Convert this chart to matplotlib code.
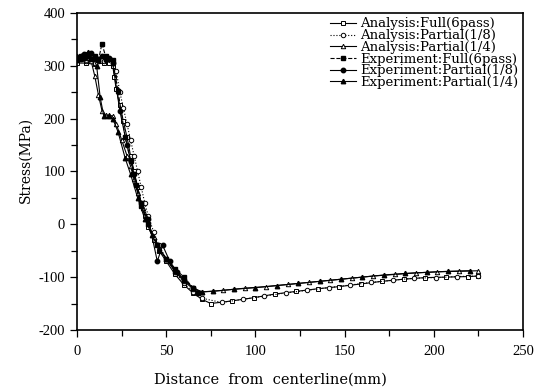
import matplotlib
matplotlib.use("Agg")
import matplotlib.pyplot as plt
from matplotlib.ticker import MultipleLocator

plt.rcParams['font.family'] = ['Liberation Serif', 'DejaVu Serif']
plt.rcParams['axes.unicode_minus'] = False

# Analysis : Full (6pass) -- open squares, solid
an_full_x = [0, 5, 10, 15, 18, 20, 21, 22, 24, 26, 28, 30, 32, 34, 36, 38, 40, 43, 46, 50, 55, 60, 65, 70,
             75, 87, 99, 111, 123, 135, 147, 159, 171, 183, 195, 207, 219, 225]
an_full_y = [305, 305, 303, 305, 305, 300, 278, 255, 225, 195, 165, 130, 100, 70, 40, 15, -5, -30, -50, -70,
             -95, -115, -130, -142, -150, -145, -139, -132, -127, -122, -118, -113, -108, -104, -101, -100,
             -99, -98]

# Analysis : Partial (1/8) -- open circles, dotted
an_p8_x = [0, 5, 10, 15, 20, 22, 24, 26, 28, 30, 32, 34, 36, 38, 40, 43, 46, 50, 55, 60, 65, 70,
           81, 93, 105, 117, 129, 141, 153, 165, 177, 189, 201, 213, 225]
an_p8_y = [310, 308, 306, 308, 305, 290, 250, 220, 190, 160, 130, 100, 70, 40, 15, -15, -40, -65, -90,
           -112, -128, -140, -148, -142, -136, -130, -125, -120, -115, -110, -106, -102, -101, -99, -98]

# Analysis : Partial (1/4) -- open triangles, solid
an_p4_x = [0, 5, 8, 10, 12, 14, 16, 18, 20, 22, 25, 28, 30, 32, 34, 37, 40, 43, 46, 50, 55, 60, 65,
           70, 82, 94, 106, 118, 130, 142, 154, 166, 178, 190, 202, 214, 225]
an_p4_y = [310, 310, 308, 280, 245, 215, 207, 206, 205, 190, 160, 130, 110, 85, 60, 30, 0, -25, -45,
           -65, -90, -108, -122, -128, -125, -121, -118, -114, -110, -106, -102, -98, -95, -92, -90, -89,
           -88]

# Experiment : Full (6pass) -- filled squares, dashed
ex_full_x = [0, 2, 4, 6, 8, 10, 12, 14, 16, 18, 20, 23, 27, 30, 33, 36, 40, 45, 50, 55, 60, 65, 68]
ex_full_y = [310, 318, 315, 320, 312, 318, 310, 342, 318, 312, 310, 252, 165, 120, 75, 35, 0, -40, -65,
             -85, -100, -120, -130]

# Experiment : Partial (1/8) -- filled circles, solid
ex_p8_x = [0, 2, 4, 6, 8, 10, 12, 14, 16, 18, 20, 24, 28, 32, 36, 40, 45, 48, 52, 56, 60, 65]
ex_p8_y = [315, 312, 322, 318, 325, 315, 312, 318, 310, 315, 305, 215, 150, 95, 40, 10, -70, -40, -70,
           -90, -105, -120]

# Experiment : Partial (1/4) -- filled triangles, solid
ex_p4_x = [0, 3, 6, 9, 11, 13, 15, 18, 20, 23, 27, 30, 34, 38, 42, 46, 50, 55, 60, 65, 70,
           76, 88, 100, 112, 124, 136, 148, 160, 172, 184, 196, 208, 220]
ex_p4_y = [318, 320, 326, 315, 300, 240, 205, 205, 200, 175, 125, 95, 50, 10, -20, -48, -65, -88, -105,
           -120, -128, -127, -123, -120, -116, -112, -108, -104, -100, -96, -93, -91, -89, -88]

labels = ['Analysis:Full(6pass)', 'Analysis:Partial(1/8)', 'Analysis:Partial(1/4)',
          'Experiment:Full(6pass)', 'Experiment:Partial(1/8)', 'Experiment:Partial(1/4)']

fig = plt.figure(figsize=(5.46, 3.9), dpi=100)
ax = fig.add_axes([0.141, 0.154, 0.817, 0.813])

ms = 3.2
lw = 0.8
ax.plot(an_full_x, an_full_y, '-', color='k', lw=lw, marker='s', ms=ms, mfc='white', mec='k', mew=0.7,
        label=labels[0])
ax.plot(an_p8_x, an_p8_y, ':', color='k', lw=lw, marker='o', ms=ms, mfc='white', mec='k', mew=0.7,
        label=labels[1])
ax.plot(an_p4_x, an_p4_y, '-', color='k', lw=lw, marker='^', ms=ms, mfc='white', mec='k', mew=0.7,
        label=labels[2])
ax.plot(ex_full_x, ex_full_y, '--', color='k', lw=lw, marker='s', ms=ms, mfc='k', mec='k',
        label=labels[3])
ax.plot(ex_p8_x, ex_p8_y, '-', color='k', lw=lw, marker='o', ms=ms, mfc='k', mec='k',
        label=labels[4])
ax.plot(ex_p4_x, ex_p4_y, '-', color='k', lw=lw, marker='^', ms=ms, mfc='k', mec='k',
        label=labels[5])

ax.set_xlim(0, 250)
ax.set_ylim(-200, 400)
ax.xaxis.set_major_locator(MultipleLocator(50))
ax.xaxis.set_minor_locator(MultipleLocator(25))
ax.yaxis.set_major_locator(MultipleLocator(100))
ax.yaxis.set_minor_locator(MultipleLocator(50))
ax.tick_params(which='both', direction='out', top=False, right=False, labelsize=10.5)
ax.tick_params(axis='x', pad=6)
ax.tick_params(which='major', length=5, width=0.9)
ax.tick_params(which='minor', length=4, width=0.9)
for s in ax.spines.values():
    s.set_linewidth(1.2)

ax.set_xlabel('Distance  from  centerline(mm)', fontsize=10.5, family='DejaVu Serif')
ax.set_ylabel('Stress(MPa)', fontsize=10, family='DejaVu Serif')
ax.xaxis.set_label_coords(0.433, -0.135)
ax.yaxis.set_label_coords(-0.1, 0.535)

ax.legend(loc='upper right', frameon=False, prop={'family': 'DejaVu Serif', 'size': 9.5},
          handlelength=2.0, handletextpad=0.3, labelspacing=-0.1, borderaxespad=0.2, borderpad=0.15)

fig.savefig('out.png', dpi=100)
